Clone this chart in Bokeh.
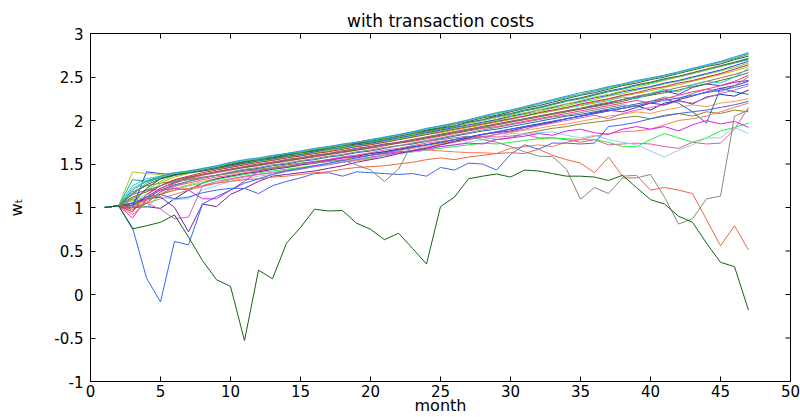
from bokeh.plotting import figure
from bokeh.models import FixedTicker, CustomJSTickFormatter
from bokeh.embed import file_html
from bokeh.resources import INLINE

x_ticks = [0, 5, 10, 15, 20, 25, 30, 35, 40, 45, 50]
y_ticks = [-1, -0.5, 0, 0.5, 1, 1.5, 2, 2.5, 3]

T0 = [1.00,1.02,1.20,1.30,1.36,1.40,1.42,1.45,1.48,1.52,1.55,1.57,1.60,1.62,1.65,1.68,1.70,1.73,1.75,1.78,1.81,1.84,1.87,1.91,1.94,1.97,2.01,2.05,2.09,2.12,2.16,2.20,2.24,2.28,2.32,2.35,2.39,2.42,2.46,2.49,2.52,2.56,2.60,2.64,2.68,2.73,2.78]
T1 = [1.00,1.02,1.15,1.28,1.35,1.39,1.42,1.44,1.47,1.51,1.54,1.56,1.59,1.62,1.64,1.67,1.70,1.72,1.75,1.78,1.80,1.83,1.87,1.90,1.93,1.97,2.00,2.04,2.08,2.11,2.15,2.19,2.23,2.27,2.30,2.34,2.38,2.41,2.45,2.48,2.52,2.55,2.59,2.63,2.67,2.71,2.76]
T2 = [1.00,1.02,1.05,1.22,1.33,1.38,1.41,1.44,1.47,1.50,1.53,1.56,1.58,1.61,1.64,1.66,1.69,1.72,1.74,1.77,1.80,1.83,1.86,1.89,1.92,1.96,1.99,2.03,2.06,2.10,2.14,2.17,2.21,2.25,2.29,2.32,2.36,2.40,2.43,2.47,2.50,2.54,2.58,2.62,2.65,2.70,2.74]
T3 = [1.00,1.02,1.41,1.39,1.38,1.40,1.41,1.43,1.46,1.49,1.52,1.55,1.57,1.60,1.62,1.65,1.68,1.70,1.73,1.76,1.79,1.82,1.84,1.88,1.91,1.94,1.97,2.00,2.03,2.06,2.09,2.12,2.16,2.19,2.23,2.27,2.30,2.34,2.38,2.42,2.46,2.50,2.54,2.58,2.62,2.67,2.72]
T4 = [1.00,1.02,1.32,1.30,1.34,1.37,1.40,1.43,1.46,1.49,1.52,1.54,1.57,1.60,1.62,1.65,1.67,1.70,1.73,1.75,1.78,1.81,1.84,1.87,1.90,1.93,1.97,2.00,2.04,2.07,2.11,2.14,2.18,2.22,2.25,2.29,2.33,2.36,2.40,2.43,2.47,2.50,2.54,2.58,2.62,2.66,2.70]
T5 = [1.00,1.02,1.00,1.41,1.39,1.38,1.40,1.42,1.45,1.48,1.51,1.54,1.56,1.59,1.61,1.64,1.67,1.69,1.72,1.74,1.77,1.80,1.83,1.86,1.89,1.92,1.95,1.98,2.01,2.05,2.08,2.12,2.15,2.19,2.22,2.26,2.29,2.33,2.36,2.39,2.43,2.46,2.50,2.54,2.58,2.63,2.68]
T6 = [1.00,1.02,1.10,1.20,1.30,1.37,1.40,1.43,1.45,1.48,1.51,1.53,1.56,1.58,1.61,1.63,1.66,1.68,1.71,1.74,1.76,1.79,1.82,1.85,1.88,1.91,1.94,1.97,2.00,2.04,2.07,2.10,2.14,2.17,2.21,2.24,2.28,2.31,2.35,2.38,2.42,2.45,2.49,2.53,2.57,2.61,2.66]
T7 = [1.00,1.02,0.95,1.15,1.25,1.32,1.36,1.40,1.43,1.46,1.49,1.52,1.54,1.57,1.59,1.62,1.64,1.67,1.70,1.72,1.75,1.78,1.81,1.84,1.87,1.90,1.93,1.96,1.99,2.02,2.05,2.09,2.12,2.15,2.19,2.22,2.25,2.29,2.32,2.36,2.39,2.43,2.46,2.50,2.54,2.59,2.64]
T8 = [1.00,1.02,1.08,1.12,1.28,1.35,1.39,1.42,1.44,1.47,1.50,1.52,1.55,1.57,1.60,1.62,1.65,1.67,1.70,1.73,1.75,1.78,1.81,1.84,1.86,1.89,1.92,1.95,1.98,2.01,2.05,2.08,2.11,2.14,2.18,2.21,2.24,2.28,2.31,2.34,2.38,2.41,2.45,2.49,2.53,2.57,2.62]
T9 = [1.00,1.02,1.25,1.33,1.36,1.38,1.40,1.42,1.45,1.47,1.50,1.53,1.55,1.58,1.60,1.63,1.65,1.68,1.70,1.73,1.76,1.78,1.81,1.84,1.87,1.90,1.93,1.96,1.99,2.02,2.05,2.08,2.11,2.14,2.17,2.20,2.23,2.27,2.25,2.31,2.36,2.33,2.41,2.45,2.43,2.50,2.60]
T10 = [1.00,1.02,0.98,1.05,1.18,1.28,1.34,1.38,1.41,1.44,1.47,1.50,1.52,1.55,1.57,1.60,1.62,1.65,1.67,1.70,1.72,1.75,1.78,1.81,1.84,1.87,1.90,1.93,1.96,1.99,2.02,2.05,2.08,2.11,2.14,2.18,2.21,2.24,2.28,2.31,2.34,2.38,2.41,2.45,2.49,2.53,2.58]
T11 = [1.00,1.02,1.12,1.18,1.25,1.31,1.35,1.38,1.41,1.44,1.46,1.49,1.51,1.54,1.56,1.59,1.61,1.64,1.66,1.69,1.72,1.74,1.77,1.80,1.83,1.86,1.89,1.92,1.95,1.98,2.01,2.04,2.07,2.10,2.13,2.16,2.19,2.22,2.26,2.29,2.32,2.35,2.39,2.42,2.46,2.50,2.55]
T12 = [1.00,1.02,0.88,1.10,1.22,1.28,1.33,1.37,1.40,1.43,1.46,1.48,1.51,1.53,1.56,1.58,1.61,1.63,1.66,1.68,1.71,1.74,1.76,1.79,1.82,1.85,1.88,1.91,1.93,1.96,1.99,2.02,2.05,2.08,2.11,2.14,2.17,2.20,2.23,2.20,2.25,2.29,2.33,2.36,2.40,2.45,2.52]
T13 = [1.00,1.02,1.05,1.08,1.15,1.24,1.30,1.34,1.37,1.41,1.44,1.46,1.49,1.51,1.54,1.56,1.59,1.61,1.64,1.66,1.69,1.71,1.74,1.77,1.80,1.83,1.86,1.89,1.92,1.95,1.98,2.01,2.04,2.06,2.09,2.12,2.15,2.18,2.16,2.22,2.27,2.25,2.31,2.36,2.33,2.40,2.50]
T14 = [1.00,1.02,1.22,1.31,1.35,1.39,1.41,1.44,1.47,1.51,1.54,1.56,1.59,1.62,1.64,1.67,1.69,1.72,1.75,1.77,1.80,1.83,1.86,1.90,1.93,1.96,2.00,2.04,2.08,2.11,2.15,2.19,2.23,2.26,2.30,2.34,2.37,2.41,2.45,2.48,2.51,2.55,2.59,2.63,2.67,2.72,2.77]
T15 = [1.00,1.02,1.16,1.26,1.33,1.37,1.40,1.43,1.46,1.49,1.52,1.55,1.57,1.60,1.63,1.65,1.68,1.71,1.73,1.76,1.79,1.82,1.85,1.88,1.91,1.94,1.98,2.01,2.05,2.08,2.12,2.15,2.19,2.23,2.26,2.30,2.34,2.37,2.41,2.44,2.48,2.51,2.55,2.59,2.63,2.67,2.71]
T16 = [1.00,1.02,1.03,1.12,1.22,1.29,1.34,1.38,1.41,1.44,1.47,1.50,1.52,1.55,1.57,1.60,1.62,1.65,1.68,1.70,1.73,1.75,1.78,1.81,1.84,1.87,1.90,1.93,1.96,1.99,2.02,2.05,2.08,2.11,2.14,2.17,2.20,2.24,2.27,2.30,2.34,2.30,2.38,2.42,2.40,2.44,2.46]

M1 = [1.00,1.02,1.05,1.10,1.12,1.00,0.72,1.04,1.01,1.15,1.22,1.30,1.36,1.38,1.40,1.42,1.45,1.48,1.52,1.55,1.58,1.62,1.65,1.68,1.72,1.76,1.80,1.84,1.86,1.88,1.92,1.95,1.98,2.02,2.05,2.09,2.12,2.10,2.15,2.20,2.18,2.24,2.28,2.33,2.37,2.40,2.45]
M2 = [1.00,1.02,1.10,1.05,0.98,0.87,0.89,1.25,1.30,1.33,1.36,1.38,1.40,1.42,1.44,1.47,1.49,1.52,1.55,1.58,1.60,1.63,1.66,1.69,1.72,1.75,1.78,1.81,1.84,1.87,1.90,1.94,1.97,2.00,2.03,2.06,2.02,2.08,2.12,2.15,2.18,2.22,2.20,2.26,2.31,2.35,2.40]
M3 = [1.00,1.02,1.15,1.20,1.20,1.22,1.20,1.10,1.10,1.20,1.30,1.42,1.45,1.47,1.50,1.52,1.55,1.57,1.58,1.60,1.62,1.64,1.65,1.67,1.70,1.72,1.74,1.73,1.78,1.80,1.82,1.85,1.83,1.88,1.90,1.86,1.84,1.90,1.93,1.90,1.93,1.88,1.95,2.00,1.96,1.99,1.92]
M4 = [1.00,1.02,1.08,1.15,1.12,1.09,1.10,1.20,1.25,1.30,1.33,1.36,1.38,1.41,1.44,1.47,1.50,1.53,1.56,1.58,1.60,1.62,1.64,1.66,1.70,1.72,1.75,1.78,1.80,1.85,1.84,1.86,1.87,1.83,1.80,1.83,1.78,1.75,1.72,1.65,1.58,1.66,1.72,1.80,1.80,1.92,1.85]
M5 = [1.00,1.02,1.05,1.00,1.15,1.20,1.25,1.28,1.32,1.35,1.38,1.40,1.42,1.44,1.46,1.48,1.50,1.52,1.55,1.57,1.60,1.62,1.64,1.66,1.68,1.70,1.72,1.74,1.73,1.75,1.77,1.79,1.80,1.79,1.78,1.78,1.75,1.70,1.70,1.78,1.85,1.80,1.75,1.80,1.88,1.92,1.97]
M6 = [1.00,1.02,0.92,1.05,1.18,1.25,1.28,1.32,1.35,1.37,1.40,1.42,1.45,1.47,1.50,1.52,1.55,1.58,1.60,1.63,1.66,1.68,1.71,1.74,1.76,1.78,1.80,1.82,1.81,1.82,1.84,1.80,1.80,1.78,1.75,1.78,1.72,1.73,1.74,1.73,1.70,1.68,1.75,1.73,1.74,1.90,2.15]
M7 = [1.00,1.02,1.00,1.05,1.10,1.15,1.20,1.24,1.28,1.32,1.35,1.38,1.40,1.43,1.45,1.48,1.50,1.52,1.54,1.56,1.61,1.63,1.64,1.66,1.65,1.64,1.63,1.63,1.62,1.68,1.70,1.72,1.70,1.75,1.78,1.82,1.85,1.87,1.88,1.90,1.95,2.00,2.02,2.05,2.10,2.15,2.20]
M8 = [1.00,1.02,1.02,1.10,1.20,1.26,1.30,1.34,1.37,1.40,1.43,1.45,1.48,1.50,1.53,1.55,1.58,1.60,1.63,1.65,1.68,1.71,1.73,1.76,1.79,1.82,1.85,1.88,1.90,1.93,1.96,1.99,2.02,2.05,2.07,2.10,2.13,2.16,2.19,2.22,2.25,2.20,2.10,1.97,2.37,2.33,2.30]
M9 = [1.00,1.02,1.00,1.01,0.99,1.10,1.20,1.28,1.33,1.36,1.39,1.41,1.44,1.46,1.49,1.51,1.54,1.57,1.59,1.62,1.64,1.67,1.70,1.72,1.75,1.78,1.81,1.84,1.87,1.90,1.93,1.96,1.99,2.02,2.05,2.08,2.11,2.14,2.17,2.12,2.20,2.23,2.19,2.27,2.30,2.28,2.35]
M10 = [1.00,1.02,0.97,1.08,1.16,1.22,1.26,1.30,1.33,1.36,1.39,1.41,1.44,1.46,1.48,1.51,1.53,1.55,1.58,1.60,1.63,1.65,1.68,1.70,1.73,1.76,1.78,1.81,1.84,1.86,1.89,1.91,1.94,1.96,1.99,2.02,2.05,2.07,2.10,2.08,2.12,2.15,2.18,2.16,2.20,2.22,2.25]
M11 = [1.00,1.02,1.18,1.25,1.28,1.30,1.32,1.34,1.37,1.39,1.42,1.44,1.46,1.49,1.51,1.53,1.55,1.58,1.60,1.62,1.64,1.67,1.69,1.72,1.74,1.76,1.79,1.81,1.78,1.80,1.85,1.88,1.91,1.93,1.96,1.98,2.00,2.03,2.05,2.02,2.06,2.08,2.05,2.10,2.08,2.12,2.10]

blue_dip = [1.00,1.02,0.77,0.19,-0.085,0.61,0.57,1.04,1.125,1.20,1.28,1.33,1.38,1.42,1.45,1.48,1.51,1.54,1.57,1.60,1.63,1.66,1.69,1.72,1.75,1.78,1.81,1.84,1.87,1.90,1.93,1.96,1.99,2.02,2.05,2.08,2.11,2.14,2.17,2.20,2.23,2.26,2.29,2.32,2.35,2.38,2.42]
blue_low = [1.00,1.02,1.05,1.12,1.15,1.10,1.12,1.17,1.20,1.22,1.22,1.16,1.25,1.30,1.34,1.39,1.40,1.36,1.41,1.40,1.39,1.38,1.39,1.36,1.46,1.43,1.51,1.50,1.43,1.61,1.72,1.67,1.74,1.74,1.73,1.74,1.93,1.95,1.98,2.02,2.05,2.08,2.10,2.12,2.15,2.18,2.22]
red_fall = [1.00,1.02,1.00,1.10,1.15,1.20,1.22,1.25,1.28,1.30,1.32,1.33,1.35,1.36,1.38,1.40,1.41,1.44,1.46,1.47,1.48,1.50,1.52,1.55,1.57,1.55,1.58,1.60,1.62,1.63,1.62,1.67,1.60,1.55,1.51,1.40,1.58,1.36,1.37,1.20,1.23,1.20,1.16,0.86,0.56,0.79,0.51]
grey_jump = [1.00,1.02,1.10,1.20,1.25,1.30,1.32,1.35,1.37,1.40,1.42,1.43,1.45,1.47,1.50,1.51,1.53,1.545,1.49,1.43,1.30,1.44,1.74,1.76,1.78,1.80,1.82,1.78,1.75,1.70,1.64,1.59,1.585,1.44,1.095,1.23,1.16,1.34,1.34,1.38,1.12,0.81,0.87,1.10,1.13,2.05,2.12]
green_crash = [1.00,1.02,0.755,0.79,0.83,0.915,0.66,0.39,0.17,0.094,-0.53,0.28,0.18,0.59,0.77,0.98,0.96,0.965,0.82,0.75,0.63,0.705,0.53,0.35,1.01,1.12,1.33,1.36,1.385,1.35,1.43,1.42,1.39,1.36,1.36,1.35,1.31,1.37,1.23,1.09,1.04,0.90,0.83,0.59,0.37,0.32,-0.18]

series = [
    (M11, "#888833"), (M10, "#ff9944"), (M9, "#223399"), (M8, "#2266bb"),
    (M7, "#ff7755"), (M6, "#ee5599"), (M5, "#22ee44"), (M4, "#99ccee"),
    (M3, "#dd22ee"), (M2, "#cc66cc"), (M1, "#7722aa"),
    (T16, "#5533cc"), (T13, "#888888"), (T12, "#ff3388"), (T11, "#447722"),
    (T10, "#aa6655"), (T9, "#22cccc"), (T8, "#bbbb00"), (T7, "#cc2255"),
    (T6, "#66dd33"), (T5, "#2244dd"), (T4, "#11aa99"), (T3, "#aacc22"),
    (T2, "#2f4f4f"), (T15, "#336644"), (T1, "#33aa55"), (T14, "#55cc88"),
    (T0, "#2299ee"),
    (blue_low, "#4466ee"), (red_fall, "#ee6644"), (grey_jump, "#888877"),
    (blue_dip, "#3366ff"), (green_crash, "#116611"),
]

FONT = "DejaVu Sans"
X0, X1 = 0, 50
Y0, Y1 = -1, 3

p = figure(width=800, height=417, x_range=(X0, X1), y_range=(Y0, Y1),
           output_backend="svg", toolbar_location=None,
           min_border_left=90, min_border_right=10, min_border_top=33,
           min_border_bottom=35, title="with transaction costs")
p.title.align = "center"
p.title.text_font = FONT
p.title.text_font_size = "17px"
p.title.text_font_style = "normal"
p.title.text_color = "black"
p.title.standoff = 5
p.grid.visible = False
p.outline_line_color = "black"
p.outline_line_width = 1

for vals, col in series:
    xs = list(range(1, len(vals) + 1))
    p.line(xs, vals, line_color=col, line_width=1)

# inward tick marks on the top and right edges of the box
p.ray(x=x_ticks, y=[Y1] * len(x_ticks), length=5, length_units="screen",
      angle=-90, angle_units="deg", line_color="black", line_width=1)
p.ray(x=[X1] * len(y_ticks), y=y_ticks, length=5, length_units="screen",
      angle=180, angle_units="deg", line_color="black", line_width=1)

fmt = CustomJSTickFormatter(code="return tick.toString();")

for ax, ticks in ((p.xaxis[0], x_ticks), (p.yaxis[0], y_ticks)):
    ax.ticker = FixedTicker(ticks=ticks)
    ax.formatter = fmt
    ax.major_tick_in = 5
    ax.major_tick_out = 0
    ax.minor_tick_in = 0
    ax.minor_tick_out = 0
    ax.axis_line_color = "black"
    ax.major_tick_line_color = "black"
    ax.major_label_text_font = FONT
    ax.major_label_text_font_size = "15px"
    ax.major_label_text_color = "black"
    ax.axis_label_text_font = FONT
    ax.axis_label_text_font_style = "normal"
    ax.axis_label_text_font_size = "16px"
    ax.axis_label_text_color = "black"

p.xaxis[0].axis_label = "month"
p.xaxis[0].major_label_standoff = 3
p.xaxis[0].axis_label_standoff = -4
p.yaxis[0].axis_label = "w\u209c"
p.yaxis[0].major_label_standoff = 7
p.yaxis[0].axis_label_standoff = 25

open("out.html", "w").write(file_html(p, INLINE))
